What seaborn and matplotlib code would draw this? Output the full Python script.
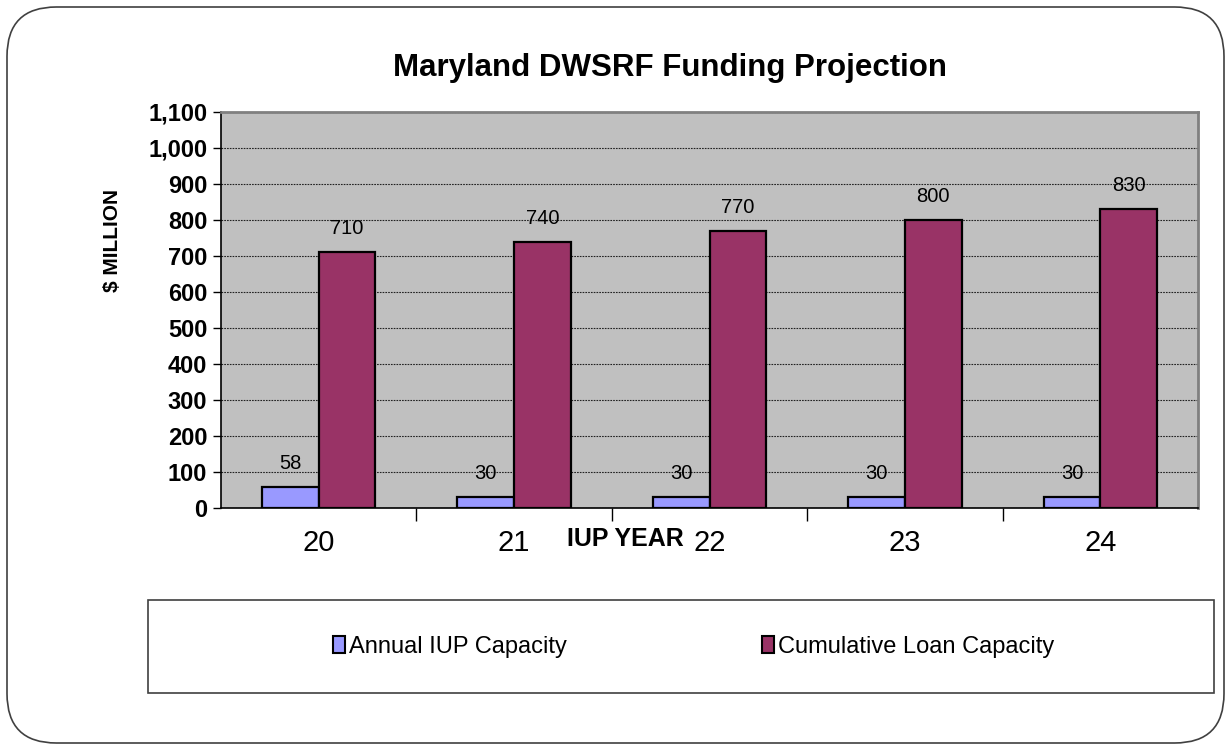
import pandas as pd
import matplotlib.pyplot as plt
import seaborn as sns
from matplotlib.patches import FancyBboxPatch, Rectangle
from matplotlib.ticker import FuncFormatter

# dados do gráfico
anos = ["20", "21", "22", "23", "24"]
anual_iup = [58, 30, 30, 30, 30]
cumulativo = [710, 740, 770, 800, 830]
series = ["Annual IUP Capacity", "Cumulative Loan Capacity"]
cores = ["#9999FF", "#993366"]

df = pd.DataFrame({
    "ano": anos * 2,
    "valor": anual_iup + cumulativo,
    "serie": [series[0]] * len(anos) + [series[1]] * len(anos),
})

sns.set_style("white")
plt.rcParams["font.family"] = ["Liberation Sans", "DejaVu Sans"]
plt.rcParams["text.color"] = "black"
plt.rcParams["xtick.color"] = "black"
plt.rcParams["ytick.color"] = "black"
plt.rcParams["axes.labelcolor"] = "black"

fig = plt.figure(figsize=(12.32, 7.5), dpi=100)
ax = fig.add_axes([0.1794, 0.3227, 0.7930, 0.5280])

sns.barplot(data=df, x="ano", y="valor", hue="serie", palette=cores,
            saturation=1, width=0.58, edgecolor="black", linewidth=1.6,
            ax=ax, legend=False)

# rótulos acima das barras
for cont in ax.containers:
    for barra in cont:
        h = barra.get_height()
        ax.annotate(f"{h:.0f}", (barra.get_x() + barra.get_width() / 2, h),
                    xytext=(0, 10), textcoords="offset points",
                    ha="center", va="bottom", fontsize=14.5)

ax.set_facecolor("#C0C0C0")
ax.set_ylim(0, 1100)
ax.set_xlim(-0.5, len(anos) - 0.5)
ax.set_yticks(range(0, 1101, 100))
ax.yaxis.set_major_formatter(FuncFormatter(lambda v, p: f"{v:,.0f}"))
ax.yaxis.grid(True, color="#222222", linestyle=(0, (1.5, 1)), linewidth=0.8)
ax.set_axisbelow(True)

ax.tick_params(axis="y", labelsize=17, length=6, width=1,
               direction="out", left=True, pad=4)
for t in ax.get_yticklabels():
    t.set_fontweight("bold")
ax.tick_params(axis="x", which="major", labelsize=21, length=0, pad=15)
ax.set_xticks([i + 0.5 for i in range(len(anos) - 1)], minor=True)
ax.tick_params(axis="x", which="minor", length=9, width=1,
               direction="out", bottom=True)

for lado in ["left", "bottom"]:
    ax.spines[lado].set_color("black")
    ax.spines[lado].set_linewidth(1.2)
for lado in ["top", "right"]:
    ax.spines[lado].set_color("#808080")
    ax.spines[lado].set_linewidth(2)

ax.set_xlabel("IUP YEAR", fontsize=18, fontweight="bold")
ax.xaxis.set_label_coords(0.4135, -0.048)
ax.set_ylabel("")
fig.text(113 / 1232, 1 - 240 / 750, "$ MILLION", rotation=90, ha="center",
         va="center", fontsize=15, fontweight="bold")

fig.text(670 / 1232, 1 - 68 / 750, "Maryland DWSRF Funding Projection",
         ha="center", va="center", fontsize=22.5, fontweight="bold")

# moldura arredondada
fig.patches.append(FancyBboxPatch((7 / 1232, 7 / 750), 1217 / 1232, 736 / 750,
                                  boxstyle="round,pad=0,rounding_size=0.04",
                                  transform=fig.transFigure, fill=False,
                                  edgecolor="#404040", linewidth=1.2,
                                  mutation_aspect=1232 / 750))

# caixa da legenda
fig.patches.append(Rectangle((148 / 1232, 1 - 693 / 750), 1066 / 1232, 93 / 750,
                             transform=fig.transFigure, fill=False,
                             edgecolor="#404040", linewidth=1.2))
alcas = [Rectangle((0, 0), 1, 1, facecolor=c, edgecolor="black", linewidth=1.5)
         for c in cores]
fig.legend(alcas, series, loc="center", bbox_to_anchor=(0.563, 1 - 647 / 750),
           ncol=2, frameon=False, fontsize=17, handlelength=0.5,
           handleheight=0.7, handletextpad=0.15, columnspacing=8.3)

fig.savefig("out.png", dpi=100)
